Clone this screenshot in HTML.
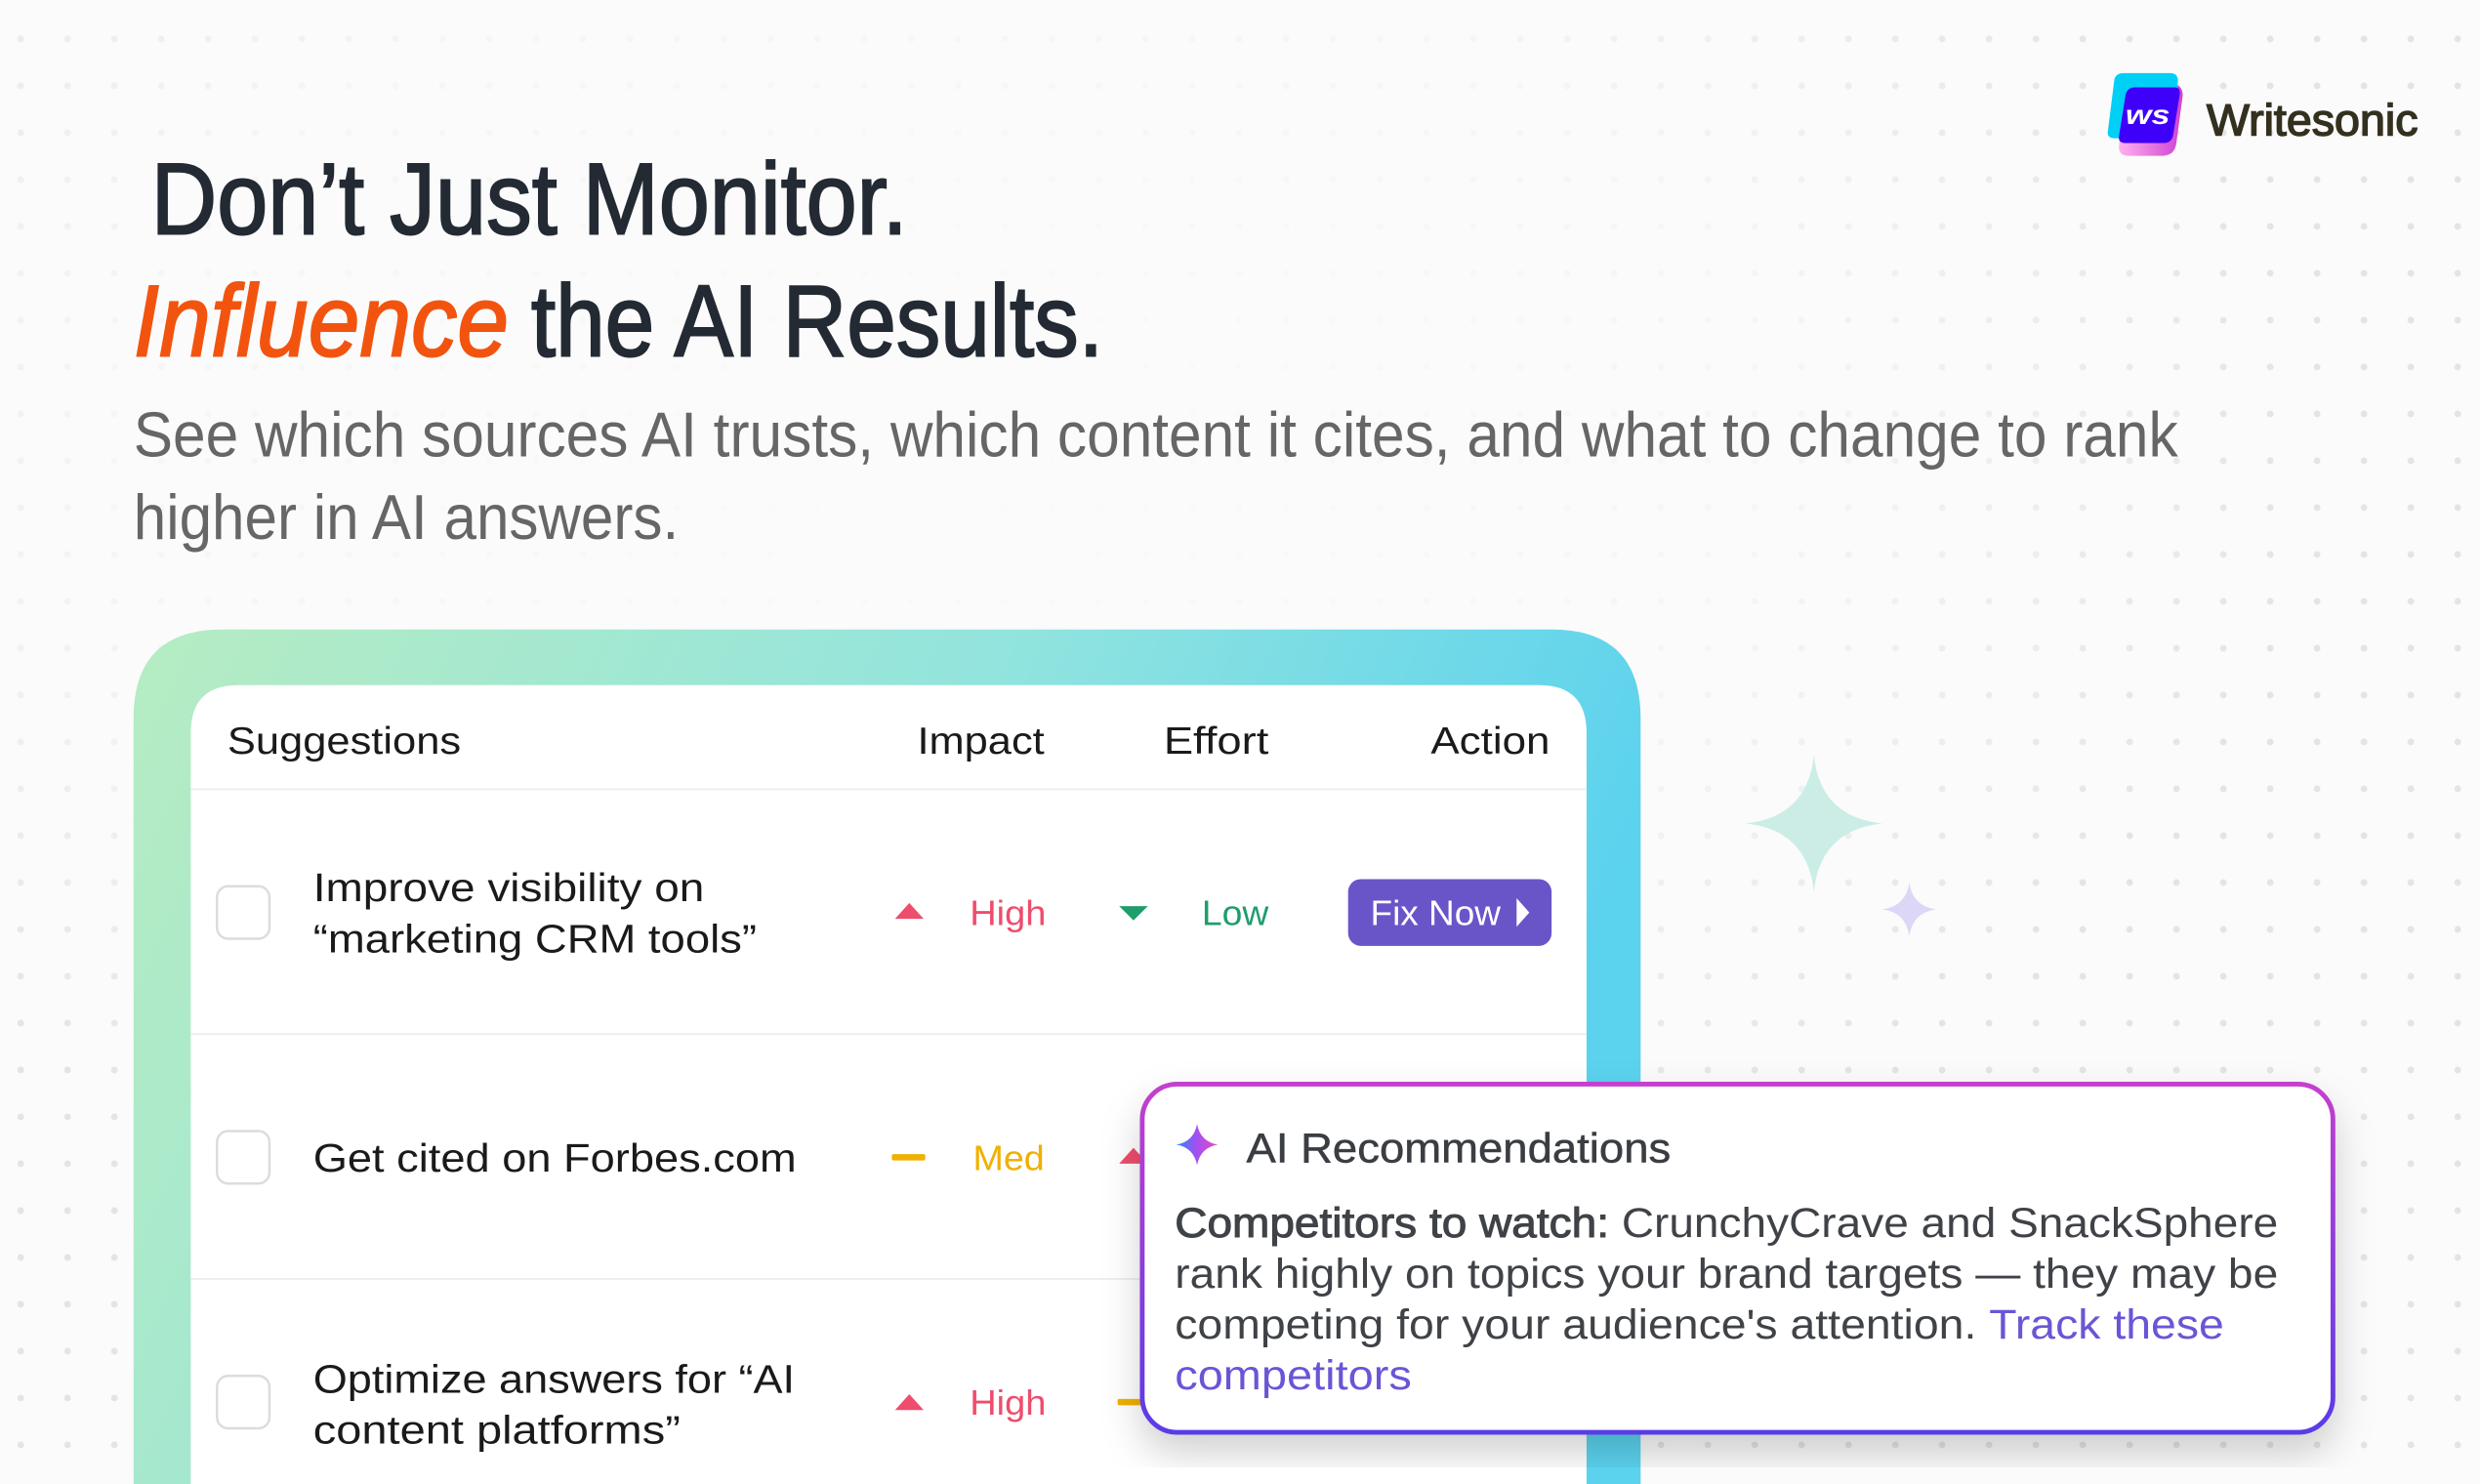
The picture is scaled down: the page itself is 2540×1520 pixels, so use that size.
<!DOCTYPE html>
<html><head><meta charset="utf-8"><style>
html,body{margin:0;padding:0;background:#fbfbfb;width:2540px;height:1520px;overflow:hidden;}
svg{display:block;}
text{font-family:"Liberation Sans",sans-serif;}
</style></head><body>
<svg width="2540" height="1520" viewBox="0 0 1560 933.5" preserveAspectRatio="none" xmlns="http://www.w3.org/2000/svg">
<defs>
<pattern id="dots" x="13" y="24.5" width="29.48" height="29.48" patternUnits="userSpaceOnUse">
<circle cx="0" cy="0" r="2.1" fill="#e4e4e4"/><circle cx="29.48" cy="0" r="2.1" fill="#e4e4e4"/><circle cx="0" cy="29.48" r="2.1" fill="#e4e4e4"/><circle cx="29.48" cy="29.48" r="2.1" fill="#e4e4e4"/>
</pattern>
<radialGradient id="fade" cx="0.38" cy="0.3" r="0.55">
<stop offset="0" stop-color="#000"/><stop offset="0.6" stop-color="#333"/><stop offset="1" stop-color="#fff"/>
</radialGradient>
<mask id="m"><rect width="1560" height="933.5" fill="url(#fade)"/></mask>
<linearGradient id="frame" x1="0" y1="0" x2="1" y2="0.25">
<stop offset="0" stop-color="#b6ecc2"/><stop offset="0.55" stop-color="#92e4de"/><stop offset="1" stop-color="#5bd2ee"/>
</linearGradient>
<linearGradient id="pb" x1="0" y1="0" x2="0" y2="1">
<stop offset="0" stop-color="#c43fcf"/><stop offset="1" stop-color="#5a3ae8"/>
</linearGradient>
<linearGradient id="spk" x1="0" y1="0.5" x2="1" y2="0.5">
<stop offset="0" stop-color="#2a8af5"/><stop offset="0.5" stop-color="#a64ef0"/><stop offset="1" stop-color="#e34fc0"/>
</linearGradient>
<linearGradient id="lg2" x1="0" y1="0" x2="1" y2="0">
<stop offset="0" stop-color="#ffb0f0"/><stop offset="1" stop-color="#d040d0"/>
</linearGradient>
<filter id="sh" x="-10%" y="-20%" width="120%" height="130%">
<feDropShadow dx="0" dy="12" stdDeviation="12" flood-color="#000" flood-opacity="0.18"/>
</filter>
</defs>
<rect width="1560" height="933.5" fill="#fbfbfb"/>
<rect width="1560" height="933.5" fill="url(#dots)" mask="url(#m)"/>

<!-- logo -->
<path d="M1335 62 Q1337 53 1346 53 L1366 53 Q1373 53 1373 60 L1369 90 Q1368 98 1360 98 L1339 98 Q1332 98 1333 91 Z" fill="url(#lg2)"/>
<path d="M1330 50 Q1331 46 1336 46 L1365 46 Q1370 46 1370 51 L1366 82 Q1365 87 1360 87 L1330 87 Q1325 87 1326 82 Z" fill="#00cff6"/>
<path d="M1337 60 Q1338 55 1343 55 L1368 55 Q1372 55 1371 60 L1367 85 Q1366 90 1361 90 L1337 90 Q1332 90 1333 85 Z" fill="#3e00f8"/>
<text x="1337" y="78" font-size="17" font-weight="bold" font-style="italic" fill="#fff" textLength="28" lengthAdjust="spacingAndGlyphs">ws</text>
<text x="1388" y="85" font-size="28" fill="#34301f" stroke="#34301f" stroke-width="0.9" textLength="133" lengthAdjust="spacingAndGlyphs">Writesonic</text>

<!-- headings -->
<text x="95" y="147" font-size="64" fill="#232a33" stroke="#232a33" stroke-width="1.2" textLength="476" lengthAdjust="spacingAndGlyphs">Don’t Just Monitor.</text>
<text x="84" y="224" font-size="64" font-style="italic" fill="#f2540f" stroke="#f2540f" stroke-width="1.2" textLength="236" lengthAdjust="spacingAndGlyphs">Influence</text>
<text x="334" y="224" font-size="64" fill="#232a33" stroke="#232a33" stroke-width="1.2" textLength="360" lengthAdjust="spacingAndGlyphs">the AI Results.</text>
<text x="84" y="287" font-size="40" fill="#666" textLength="1286" lengthAdjust="spacingAndGlyphs">See which sources AI trusts, which content it cites, and what to change to rank</text>
<text x="84" y="339" font-size="40" fill="#666" textLength="343" lengthAdjust="spacingAndGlyphs">higher in AI answers.</text>

<!-- frame -->
<path d="M84 933.5 L84 452 Q84 396 140 396 L976 396 Q1032 396 1032 452 L1032 933.5 Z" fill="url(#frame)"/>
<path d="M120 933.5 L120 461 Q120 431 150 431 L968 431 Q998 431 998 461 L998 933.5 Z" fill="#fff"/>
<text x="143" y="474" font-size="24" fill="#1a1a1a" textLength="147" lengthAdjust="spacingAndGlyphs">Suggestions</text>
<text x="577" y="474" font-size="24" fill="#1a1a1a" textLength="80" lengthAdjust="spacingAndGlyphs">Impact</text>
<text x="732" y="474" font-size="24" fill="#1a1a1a" textLength="66" lengthAdjust="spacingAndGlyphs">Effort</text>
<text x="900" y="474" font-size="24" fill="#1a1a1a" textLength="75" lengthAdjust="spacingAndGlyphs">Action</text>
<line x1="120" y1="496.5" x2="998" y2="496.5" stroke="#ededed" stroke-width="1.2"/>
<line x1="120" y1="650.5" x2="998" y2="650.5" stroke="#ededed" stroke-width="1.2"/>
<line x1="120" y1="804.5" x2="998" y2="804.5" stroke="#ededed" stroke-width="1.2"/>

<!-- row1 -->
<rect x="136.5" y="557.5" width="33" height="33" rx="7" fill="#fff" stroke="#dcdcdc" stroke-width="1.5"/>
<text x="197" y="567" font-size="25" fill="#1a1a1a" textLength="246" lengthAdjust="spacingAndGlyphs">Improve visibility on</text>
<text x="197" y="599" font-size="25" fill="#1a1a1a" textLength="279" lengthAdjust="spacingAndGlyphs">“marketing CRM tools”</text>
<path d="M563 578 L572 568 L581 578 Z" fill="#ee4d6d"/>
<text x="610" y="582" font-size="22" fill="#ee4d6d" textLength="48" lengthAdjust="spacingAndGlyphs">High</text>
<path d="M704 570 L722 570 L713 579 Z" fill="#1f9d6b"/>
<text x="756" y="582" font-size="22" fill="#1f9d6b" textLength="42" lengthAdjust="spacingAndGlyphs">Low</text>
<rect x="848" y="553" width="128" height="42" rx="8" fill="#6a55c8"/>
<text x="862" y="582" font-size="22" fill="#fff" textLength="82" lengthAdjust="spacingAndGlyphs">Fix Now</text>
<path d="M954 565 L962 574 L954 583 Z" fill="#fff"/>

<!-- row2 -->
<rect x="136.5" y="711.5" width="33" height="33" rx="7" fill="#fff" stroke="#dcdcdc" stroke-width="1.5"/>
<text x="197" y="737" font-size="25" fill="#1a1a1a" textLength="304" lengthAdjust="spacingAndGlyphs">Get cited on Forbes.com</text>
<rect x="561" y="726" width="21" height="4" rx="1" fill="#f0b000"/>
<text x="612" y="736" font-size="22" fill="#f0b000" textLength="45" lengthAdjust="spacingAndGlyphs">Med</text>
<path d="M704 732 L713 722 L722 732 Z" fill="#ee4d6d"/>

<!-- row3 -->
<rect x="136.5" y="865.5" width="33" height="33" rx="7" fill="#fff" stroke="#dcdcdc" stroke-width="1.5"/>
<text x="197" y="876" font-size="25" fill="#1a1a1a" textLength="303" lengthAdjust="spacingAndGlyphs">Optimize answers for “AI</text>
<text x="197" y="908" font-size="25" fill="#1a1a1a" textLength="231" lengthAdjust="spacingAndGlyphs">content platforms”</text>
<path d="M563 887 L572 877 L581 887 Z" fill="#ee4d6d"/>
<text x="610" y="890" font-size="22" fill="#ee4d6d" textLength="48" lengthAdjust="spacingAndGlyphs">High</text>
<rect x="703" y="880" width="21" height="4" rx="1" fill="#f0b000"/>

<!-- sparkles -->
<path d="M1141 475 Q1145 514 1184 518 Q1145 522 1141 561 Q1137 522 1098 518 Q1137 514 1141 475 Z" fill="#cbede5"/>
<path d="M1201 555 Q1203 570 1218 572 Q1203 574 1201 589 Q1199 574 1184 572 Q1199 570 1201 555 Z" fill="#dcd7f6"/>

<!-- popup -->
<g filter="url(#sh)">
<rect x="718.5" y="682" width="749" height="219" rx="22" fill="#fff" stroke="url(#pb)" stroke-width="3"/>
</g>
<path d="M753 707 Q755 718 766 720 Q755 722 753 733 Q751 722 740 720 Q751 718 753 707 Z" fill="url(#spk)"/>
<text x="784" y="731" font-size="26" fill="#3a3d42" stroke="#3a3d42" stroke-width="0.3" textLength="267" lengthAdjust="spacingAndGlyphs">AI Recommendations</text>
<text x="739" y="778" font-size="26" fill="#3f4247" textLength="694" lengthAdjust="spacingAndGlyphs"><tspan stroke="#3f4247" stroke-width="0.6">Competitors to watch:</tspan> CrunchyCrave and SnackSphere</text>
<text x="739" y="810" font-size="26" fill="#3f4247" textLength="694" lengthAdjust="spacingAndGlyphs">rank highly on topics your brand targets — they may be</text>
<text x="739" y="842" font-size="26" fill="#3f4247" textLength="660" lengthAdjust="spacingAndGlyphs">competing for your audience's attention. <tspan fill="#6b55d6">Track these</tspan></text>
<text x="739" y="874" font-size="26" fill="#6b55d6" textLength="149" lengthAdjust="spacingAndGlyphs">competitors</text>
</svg>
</body></html>
